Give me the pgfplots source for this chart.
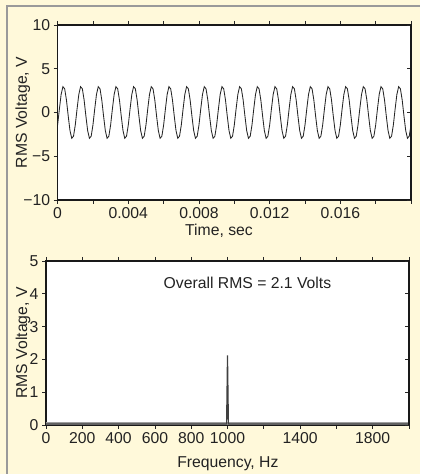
\documentclass[border=0pt]{standalone}
\usepackage{pgfplots}
\pgfplotsset{compat=1.18}
\usepackage{fontspec}
\setmainfont{Liberation Sans}
\definecolor{bgcream}{HTML}{FFF9DA}
\definecolor{framegray}{HTML}{9A9A9A}
\definecolor{ink}{HTML}{222222}

\pgfplotsset{
  panel/.style={scale only axis, anchor=south west,
    axis background/.style={fill=white},
    axis line style={line width=1.4pt, black!90},
    tick style={line width=0.7pt, black!85},
    major tick length=4bp, tick align=outside, ytick pos=left,
    ticklabel style={font=\fontsize{15.8}{18}\selectfont, text=ink},
    label style={font=\fontsize{15.8}{18}\selectfont, text=ink},
    /pgf/number format/assume math mode=true},
  rightticks/.style={scale only axis, anchor=south west, hide x axis,
    axis y line*=right, tick align=inside, yticklabels={},
    major tick length=4bp, tick style={line width=0.7pt, black!85},
    axis line style={line width=1.4pt, black!90}},
}

\begin{document}
\begin{tikzpicture}[x=1bp,y=1bp]
\useasboundingbox (0,0) rectangle (420,474);
\fill[bgcream] (0,0) rectangle (420,474);
\draw[framegray, line width=2bp] (6.5,0) -- (6.5,467.5) -- (420,467.5);

% time signal, x in ms
\begin{axis}[panel, at={(57.6bp,274bp)}, width=353.4bp, height=175bp,
  xmin=0, xmax=20, ymin=-10, ymax=10,
  xtick={0,2,...,20}, xticklabels={0,,0.004,,0.008,,0.012,,0.016,,},
  ytick={-10,-5,0,5,10}, yticklabels={−10,−5,0,5,10},
  xlabel={Time, sec}, ylabel={RMS Voltage, V},
  xlabel style={at={(axis description cs:0.4567,-0.205)}, anchor=base},
  ylabel style={at={(axis description cs:-0.0866,0.5)}, anchor=base}]
\addplot[black!85, line width=0.85bp] coordinates {
(0.0,-1.44) (0.1,0.38) (0.2,2.06) (0.3,2.95) (0.4,2.71) (0.5,1.44) (0.6,-0.38) (0.7,-2.06) (0.8,-2.95) (0.9,-2.71)
(1.0,-1.44) (1.1,0.38) (1.2,2.06) (1.3,2.95) (1.4,2.71) (1.5,1.44) (1.6,-0.38) (1.7,-2.06) (1.8,-2.95) (1.9,-2.71)
(2.0,-1.44) (2.1,0.38) (2.2,2.06) (2.3,2.95) (2.4,2.71) (2.5,1.44) (2.6,-0.38) (2.7,-2.06) (2.8,-2.95) (2.9,-2.71)
(3.0,-1.44) (3.1,0.38) (3.2,2.06) (3.3,2.95) (3.4,2.71) (3.5,1.44) (3.6,-0.38) (3.7,-2.06) (3.8,-2.95) (3.9,-2.71)
(4.0,-1.44) (4.1,0.38) (4.2,2.06) (4.3,2.95) (4.4,2.71) (4.5,1.44) (4.6,-0.38) (4.7,-2.06) (4.8,-2.95) (4.9,-2.71)
(5.0,-1.44) (5.1,0.38) (5.2,2.06) (5.3,2.95) (5.4,2.71) (5.5,1.44) (5.6,-0.38) (5.7,-2.06) (5.8,-2.95) (5.9,-2.71)
(6.0,-1.44) (6.1,0.38) (6.2,2.06) (6.3,2.95) (6.4,2.71) (6.5,1.44) (6.6,-0.38) (6.7,-2.06) (6.8,-2.95) (6.9,-2.71)
(7.0,-1.44) (7.1,0.38) (7.2,2.06) (7.3,2.95) (7.4,2.71) (7.5,1.44) (7.6,-0.38) (7.7,-2.06) (7.8,-2.95) (7.9,-2.71)
(8.0,-1.44) (8.1,0.38) (8.2,2.06) (8.3,2.95) (8.4,2.71) (8.5,1.44) (8.6,-0.38) (8.7,-2.06) (8.8,-2.95) (8.9,-2.71)
(9.0,-1.44) (9.1,0.38) (9.2,2.06) (9.3,2.95) (9.4,2.71) (9.5,1.44) (9.6,-0.38) (9.7,-2.06) (9.8,-2.95) (9.9,-2.71)
(10.0,-1.44) (10.1,0.38) (10.2,2.06) (10.3,2.95) (10.4,2.71) (10.5,1.44) (10.6,-0.38) (10.7,-2.06) (10.8,-2.95) (10.9,-2.71)
(11.0,-1.44) (11.1,0.38) (11.2,2.06) (11.3,2.95) (11.4,2.71) (11.5,1.44) (11.6,-0.38) (11.7,-2.06) (11.8,-2.95) (11.9,-2.71)
(12.0,-1.44) (12.1,0.38) (12.2,2.06) (12.3,2.95) (12.4,2.71) (12.5,1.44) (12.6,-0.38) (12.7,-2.06) (12.8,-2.95) (12.9,-2.71)
(13.0,-1.44) (13.1,0.38) (13.2,2.06) (13.3,2.95) (13.4,2.71) (13.5,1.44) (13.6,-0.38) (13.7,-2.06) (13.8,-2.95) (13.9,-2.71)
(14.0,-1.44) (14.1,0.38) (14.2,2.06) (14.3,2.95) (14.4,2.71) (14.5,1.44) (14.6,-0.38) (14.7,-2.06) (14.8,-2.95) (14.9,-2.71)
(15.0,-1.44) (15.1,0.38) (15.2,2.06) (15.3,2.95) (15.4,2.71) (15.5,1.44) (15.6,-0.38) (15.7,-2.06) (15.8,-2.95) (15.9,-2.71)
(16.0,-1.44) (16.1,0.38) (16.2,2.06) (16.3,2.95) (16.4,2.71) (16.5,1.44) (16.6,-0.38) (16.7,-2.06) (16.8,-2.95) (16.9,-2.71)
(17.0,-1.44) (17.1,0.38) (17.2,2.06) (17.3,2.95) (17.4,2.71) (17.5,1.44) (17.6,-0.38) (17.7,-2.06) (17.8,-2.95) (17.9,-2.71)
(18.0,-1.44) (18.1,0.38) (18.2,2.06) (18.3,2.95) (18.4,2.71) (18.5,1.44) (18.6,-0.38) (18.7,-2.06) (18.8,-2.95) (18.9,-2.71)
(19.0,-1.44) (19.1,0.38) (19.2,2.06) (19.3,2.95) (19.4,2.71) (19.5,1.44) (19.6,-0.38) (19.7,-2.06) (19.8,-2.95) (19.9,-2.71)
(20.0,-1.44)};
\end{axis}
\begin{axis}[rightticks, at={(57.6bp,274bp)}, width=353.4bp, height=175bp,
  xmin=0, xmax=20, ymin=-10, ymax=10, ytick={-10,-5,0,5,10}]
\addplot[draw=none] coordinates {(0,0)};
\end{axis}

% spectrum
\begin{axis}[panel, at={(46bp,49bp)}, width=363bp, height=164bp,
  xmin=0, xmax=2000, ymin=0, ymax=5,
  xtick={0,200,...,2000}, xticklabels={0,200,400,600,800,1000,,1400,,1800,},
  ytick={0,1,...,5},
  xlabel={Frequency, Hz}, ylabel={RMS Voltage, V},
  xlabel style={at={(axis description cs:0.501,-0.26)}, anchor=base},
  ylabel style={at={(axis description cs:-0.0523,0.5)}, anchor=base}]
\addplot[gray!75, line width=2.5bp] coordinates {(0,0.04) (2000,0.04)};
\addplot[black!75, line width=1.2bp] coordinates {(0,0.03) (995,0.03) (1000,2.12) (1005,0.03) (2000,0.03)};
\node[font=\fontsize{15.8}{18}\selectfont, text=ink] at (axis cs:1110,4.33) {Overall RMS = 2.1 Volts};
\end{axis}
\begin{axis}[rightticks, at={(46bp,49bp)}, width=363bp, height=164bp,
  xmin=0, xmax=2000, ymin=0, ymax=5, ytick={0,1,...,5}]
\addplot[draw=none] coordinates {(0,0)};
\end{axis}
\end{tikzpicture}
\end{document}
